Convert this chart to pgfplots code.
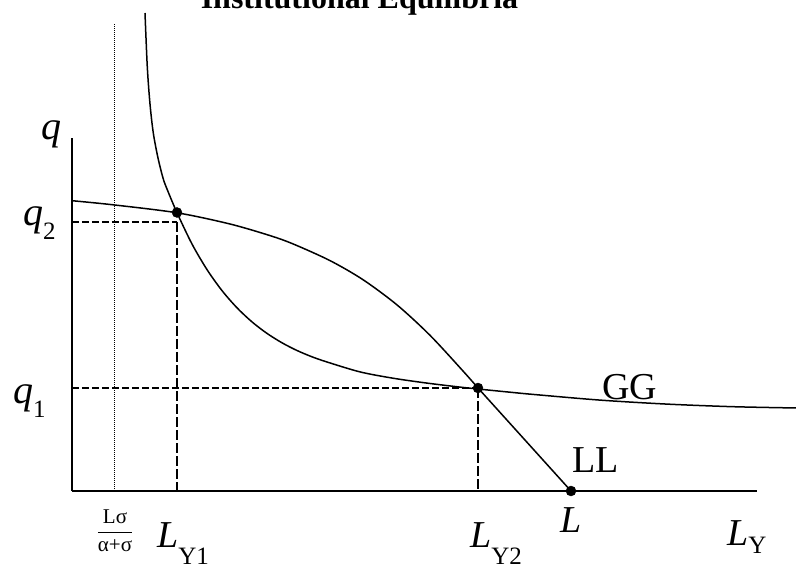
\documentclass[border=0pt]{standalone}
\usepackage{fontspec}
\setmainfont{Liberation Serif}
\usepackage{pgfplots}
\pgfplotsset{compat=1.18}

\newcommand{\fs}[1]{\fontsize{#1}{#1}\selectfont}

\begin{document}
\begin{tikzpicture}
\useasboundingbox (-72pt,-72pt) rectangle (724pt,491pt);
\begin{axis}[
    scale only axis,
    width=685pt, height=353pt,
    xmin=0, xmax=685, ymin=0, ymax=353,
    enlargelimits=false,
    axis lines=left,
    axis line style={-, line width=1.6pt},
    ticks=none,
    clip=false,
  ]

  % L sigma / (alpha + sigma)
  \addplot[black, line width=0.9pt, dash pattern=on 1pt off 1pt] coordinates {(42,0) (42,468)};

  % GG
  \addplot[black, line width=1.5pt, smooth, tension=0.5] coordinates {
      (73,478) (75.3,424) (78,387) (81.3,358) (86,333) (91,313) (95,302)
      (105,278.3) (120,247.0) (135,221.4) (150,200.4) (165,183.2) (180,169.1)
      (195,157.6) (210,148.2) (225,140.5) (240,134.2) (255,129)
      (288,119.1) (321,112.8) (355,107.9) (388,103.9) (406,102)
      (438,98.8) (461,96.6) (528,90.9) (595,86.9) (661,84.3) (725,83)
    };

  % LL
  \addplot[black, line width=1.5pt, smooth, tension=0.5] coordinates {
      (0,290.3) (41,286.2) (105,278.2) (158,267) (198,255.4) (221,247.1)
      (258,230.4) (291,211.3) (325,186.1) (358,155.7) (391,120) (406,103)
    };
  \addplot[black, line width=1.5pt] coordinates {(406,103) (499,0)};

  % guides
  \addplot[black, line width=1.3pt, dash pattern=on 7pt off 3pt] coordinates {(0,269) (105,269)};
  \addplot[black, line width=1.3pt, dash pattern=on 10pt off 3pt] coordinates {(105,269) (105,0)};
  \addplot[black, line width=1.3pt, dash pattern=on 7pt off 3pt] coordinates {(0,103) (406,103)};
  \addplot[black, line width=1.3pt, dash pattern=on 10pt off 3pt] coordinates {(406,103) (406,0)};

  % equilibria
  \addplot[black, only marks, mark=*, mark size=5pt] coordinates {(105,278.5) (406,103) (499,0)};

  % labels
  \node[anchor=base, inner sep=0] at (axis cs:287.5,482) {\fs{32}\bfseries Institutional Equilibria};
  \node[anchor=base, inner sep=0] at (axis cs:-20,351) {\fs{40}\itshape q};
  \node[anchor=base west, inner sep=0] at (axis cs:-49,265)
    {\fs{40}\itshape q\/\raisebox{-14pt}{\fs{25}\upshape 2}};
  \node[anchor=base west, inner sep=0] at (axis cs:-59,88)
    {\fs{40}\itshape q\/\raisebox{-14pt}{\fs{25}\upshape 1}};
  \node[anchor=center, inner sep=0] at (axis cs:43,-40)
    {\fs{21}$\displaystyle\frac{\mbox{Lσ}}{\mbox{α+σ}}$};
  \node[anchor=base west, inner sep=0] at (axis cs:85,-56)
    {\fs{38}\itshape L\/\raisebox{-17pt}{\fs{25}\upshape Y1}};
  \node[anchor=base west, inner sep=0] at (axis cs:398,-56)
    {\fs{38}\itshape L\/\raisebox{-17pt}{\fs{25}\upshape Y2}};
  \node[anchor=base west, inner sep=0] at (axis cs:488,-41) {\fs{38}\itshape L};
  \node[anchor=base west, inner sep=0] at (axis cs:655,-54)
    {\fs{38}\itshape L\/\raisebox{-8pt}{\fs{25}\upshape Y}};
  \node[anchor=base west, inner sep=0] at (axis cs:530,92) {\fs{38}GG};
  \node[anchor=base west, inner sep=0] at (axis cs:500,19) {\fs{38}LL};
\end{axis}
\end{tikzpicture}
\end{document}
